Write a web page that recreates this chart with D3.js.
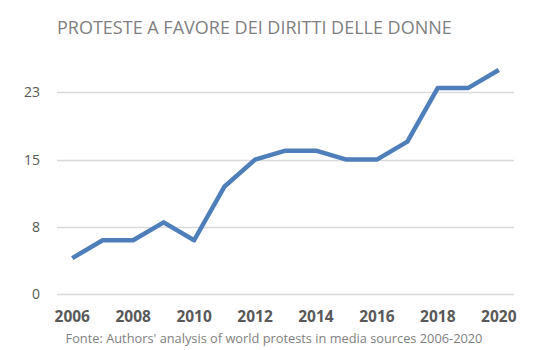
<!DOCTYPE html>
<html>
<head>
<meta charset="utf-8">
<script src="https://cdn.jsdelivr.net/npm/d3@7"></script>
<style>
  html, body { margin: 0; padding: 0; background: #fff; }
  svg { display: block; }
</style>
</head>
<body>
<svg id="chart" width="535" height="350"></svg>
<script>
// Women's rights protests per year
const years = ["2006","2007","2008","2009","2010","2011","2012","2013","2014","2015","2016","2017","2018","2019","2020"];
const protests = [4, 6, 6, 8, 6, 12, 15, 16, 16, 15, 15, 17, 23, 23, 25];
const yTicks = [0, 7.5, 15, 22.5];
const xLabels = ["2006","2008","2010","2012","2014","2016","2018","2020"];

const titleText = "PROTESTE A FAVORE DEI DIRITTI DELLE DONNE";
const sourceText = "Fonte: Authors' analysis of world protests in media sources 2006-2020";

const svg = d3.select("#chart");
const font = "'Open Sans', 'Liberation Sans', sans-serif";

const plot = { left: 57, right: 514, top: 25.2, bottom: 294 };

const x = d3.scaleBand().domain(years).range([plot.left, plot.right]);
const y = d3.scaleLinear().domain([0, 30]).range([plot.bottom, plot.top]);

// Title
svg.append("text")
  .attr("x", 57).attr("y", 34)
  .attr("font-family", font).attr("font-size", 18)
  .attr("fill", "#7f7f7f")
  .text(titleText);

// Horizontal gridlines
svg.append("g").selectAll("line").data(yTicks).join("line")
  .attr("x1", plot.left).attr("x2", plot.right)
  .attr("y1", d => Math.round(y(d)) + 0.5).attr("y2", d => Math.round(y(d)) + 0.5)
  .attr("stroke", "#d9d9d9").attr("stroke-width", 1.3);

// Y axis labels (rounded like the source chart)
const yAxis = d3.axisLeft(y).tickValues(yTicks).tickFormat(d => d3.format(".0f")(Math.round(d))).tickSize(0).tickPadding(0);
const gy = svg.append("g").attr("transform", "translate(40,0)").call(yAxis);
gy.select(".domain").remove();
gy.selectAll("text")
  .attr("font-family", font).attr("font-size", 14)
  .attr("fill", "#595959");

// X axis labels
const xAxis = d3.axisBottom(x).tickValues(xLabels).tickSize(0).tickPadding(0);
const gx = svg.append("g").attr("transform", "translate(0,311)").call(xAxis);
gx.select(".domain").remove();
gx.selectAll("text")
  .attr("font-family", font).attr("font-size", 15.5).attr("font-weight", "bold")
  .attr("fill", "#595959");

// Line
const line = d3.line()
  .x((d, i) => x(years[i]) + x.bandwidth() / 2)
  .y(d => y(d));

svg.append("path")
  .datum(protests)
  .attr("d", line)
  .attr("fill", "none")
  .attr("stroke", "#4f7fba")
  .attr("stroke-width", 4.5)
  .attr("stroke-linejoin", "round");

// Source note
svg.append("text")
  .attr("x", 274).attr("y", 343)
  .attr("text-anchor", "middle")
  .attr("font-family", font).attr("font-size", 12.8)
  .attr("fill", "#7f7f7f")
  .text(sourceText);
</script>
</body>
</html>
